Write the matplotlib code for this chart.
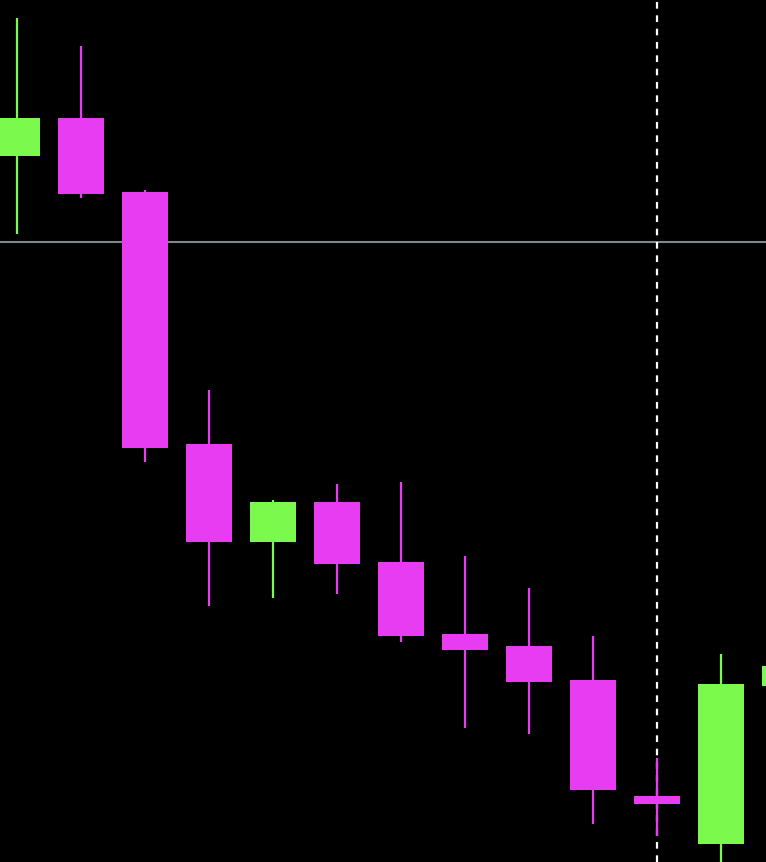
import numpy as np
import matplotlib.pyplot as plt

# candle data (price units)
opens = [706, 744, 670, 418, 320, 360, 300, 228, 216, 182, 66, 18, 176]
closes = [744, 668, 414, 320, 360, 298, 226, 212, 180, 72, 58, 178, 196]
highs = [844, 816, 672, 472, 362, 378, 380, 306, 274, 226, 104, 208, 210]
lows = [628, 664, 400, 256, 264, 268, 220, 134, 128, 38, 26, -10, 170]
level_price = 619.5
cursor_index = 10

up_color = '#7BF94C'
down_color = '#E83CF2'

fig = plt.figure(figsize=(7.661, 8.621), dpi=100, facecolor='black')
ax = fig.add_axes([0, 0, 1, 1])
ax.set_facecolor('black')

x = np.arange(len(opens))
o = np.array(opens)
c = np.array(closes)
colors = [up_color if cc >= oo else down_color for oo, cc in zip(o, c)]

ax.vlines(x, lows, highs, colors=colors, linewidth=1.6, zorder=2)
ax.bar(x, np.abs(c - o), bottom=np.minimum(o, c), width=0.72,
       color=colors, linewidth=0, zorder=3)

ax.axhline(level_price, color='#80878D', linewidth=1.5, zorder=1)
ax.axvline(cursor_index, color='white', linewidth=1.6, linestyle=(0, (3, 3)), zorder=1.5)

ax.set_xlim(-17 / 64, -17 / 64 + 766 / 64)
ax.set_ylim(0, 862)
ax.axis('off')

fig.savefig('out.png', dpi=100, facecolor='black')
